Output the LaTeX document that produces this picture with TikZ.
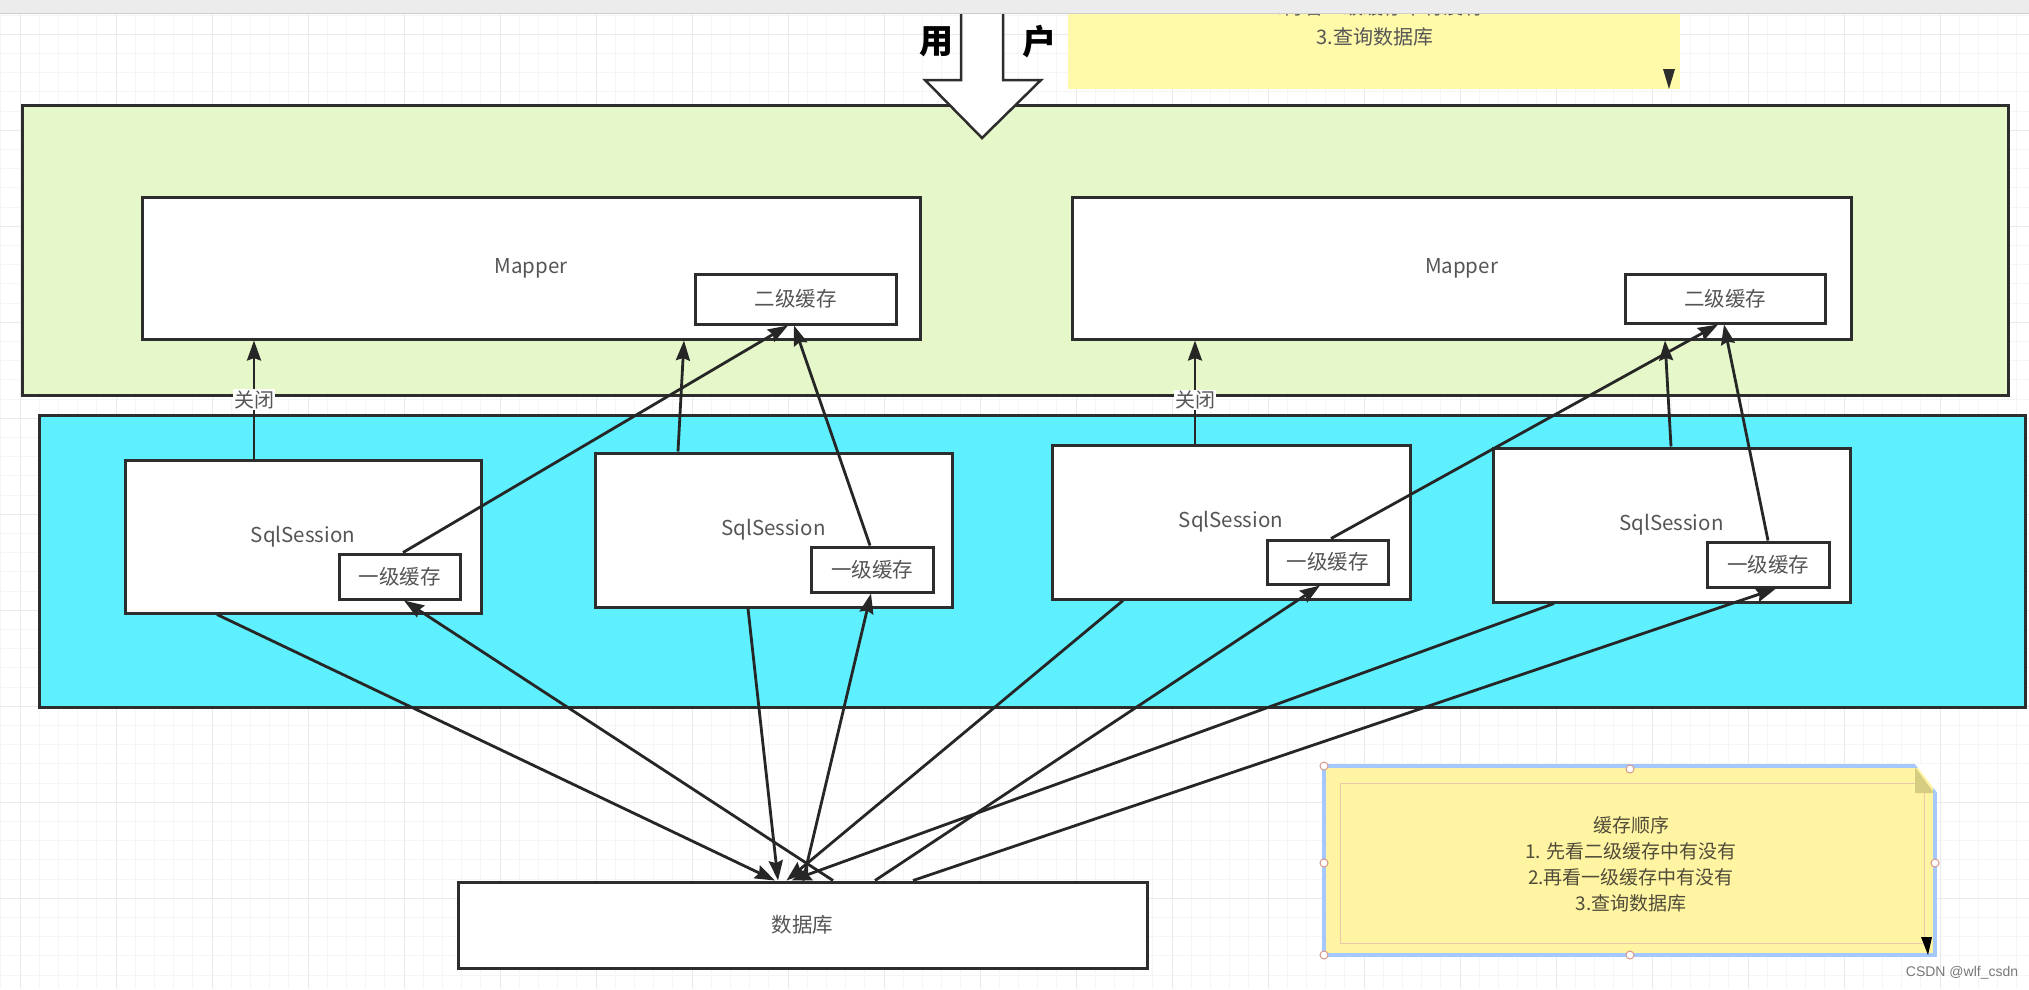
\documentclass[tikz,border=0pt]{standalone}
\usepackage{fontspec}
\setmainfont{Noto Sans CJK SC}
\newfontfamily\wmfont{Liberation Sans}
\usetikzlibrary{arrows.meta}
\definecolor{bordc}{RGB}{45,45,45}
\definecolor{linec}{RGB}{38,38,38}
\definecolor{txtc}{RGB}{85,85,85}
\definecolor{gfill}{RGB}{230,248,202}
\definecolor{cfill}{RGB}{94,240,254}
\definecolor{notea}{RGB}{255,249,170}
\definecolor{noteb}{RGB}{255,244,162}
\definecolor{notetxt}{RGB}{80,76,58}
\definecolor{glow}{RGB}{165,200,255}
\definecolor{innerc}{RGB}{236,200,170}
\definecolor{foldc}{RGB}{214,204,130}
\definecolor{gridmin}{RGB}{245,245,245}
\definecolor{gridmaj}{RGB}{234,234,234}
\definecolor{toolc}{RGB}{236,236,236}
\definecolor{handlec}{RGB}{215,150,140}
\begin{document}
\begin{tikzpicture}[x=1pt,y=-1pt,
  box/.style={draw=bordc,line width=3pt,fill=white,inner sep=0pt,text=txtc,font=\fontsize{20.5pt}{24pt}\selectfont},
  container/.style={draw=bordc,line width=3pt,inner sep=0pt},
  arr/.style={line width=2.8pt,draw=linec,-{Stealth[length=20pt,width=14pt,inset=2.5pt]}},
  lbl/.style={fill=white,inner sep=1pt,text=txtc,font=\fontsize{20pt}{24pt}\selectfont},
  handle/.style={circle,draw=handlec,fill=white,line width=1pt,inner sep=0pt,minimum size=8pt},
  usr/.style={font=\fontsize{34pt}{38pt}\selectfont\bfseries,text=black,inner sep=0pt}
]
\useasboundingbox (0,0) rectangle (2029,989);
\fill[white] (0,0) rectangle (2029,989);
% grid
\foreach \i in {0,...,106} \draw[gridmin,line width=1pt] ({0.8+19.2*\i},13) -- ({0.8+19.2*\i},989);
\foreach \j in {0,...,51} \draw[gridmin,line width=1pt] (0,{15+19.2*\j}) -- (2029,{15+19.2*\j});
\foreach \i in {0,...,21} \draw[gridmaj,line width=1pt] ({20+96*\i},13) -- ({20+96*\i},989);
\foreach \j in {0,...,10} \draw[gridmaj,line width=1pt] (0,{34+96*\j}) -- (2029,{34+96*\j});

% containers
\node[container,fill=gfill,minimum width=1986pt,minimum height=290pt] (green) at (1015,250) {};
\node[container,fill=cfill,minimum width=1986pt,minimum height=292pt] (cyan) at (1032,561) {};

% mappers
\node[box,minimum width=778pt,minimum height=142pt] (m1) at (531,268) {Mapper};
\node[box,minimum width=201pt,minimum height=50pt] (c2a) at (795.5,299) {二级缓存};
\node[box,minimum width=779pt,minimum height=142pt] (m2) at (1461.5,268) {Mapper};
\node[box,minimum width=200pt,minimum height=49pt] (c2b) at (1725,298.5) {二级缓存};

% sessions
\node[box,minimum width=356pt,minimum height=153pt] (s1) at (303,536.5) {SqlSession};
\node[box,minimum width=121pt,minimum height=45pt] (k1) at (399.5,576.5) {一级缓存};
\node[box,minimum width=357pt,minimum height=154pt] (s2) at (773.5,530) {SqlSession};
\node[box,minimum width=122pt,minimum height=45pt] (k2) at (872,569.5) {一级缓存};
\node[box,minimum width=358pt,minimum height=154pt] (s3) at (1231,522) {SqlSession};
\node[box,minimum width=121pt,minimum height=44pt] (k3) at (1327.5,562) {一级缓存};
\node[box,minimum width=357pt,minimum height=154pt] (s4) at (1671.5,525) {SqlSession};
\node[box,minimum width=122pt,minimum height=45pt] (k4) at (1768,564.5) {一级缓存};

% database
\node[box,minimum width=689pt,minimum height=86pt] (db) at (802.5,925) {数据库};

% upper connectors
\draw[arr] ([xshift=-49pt]s1.north) -- node[lbl,pos=0.5]{关闭} ([xshift=-277pt]m1.south);
\draw[arr] ([xshift=-95.5pt]s2.north) -- ([xshift=153pt]m1.south);
\draw[arr] ([xshift=3.5pt]k1.north) -- ([xshift=-7.5pt]c2a.south);
\draw[arr] ([xshift=-2pt]k2.north) -- ([xshift=-1.5pt]c2a.south);
\draw[arr] ([xshift=-36pt]s3.north) -- node[lbl,pos=0.42]{关闭} ([xshift=-266.5pt]m2.south);
\draw[arr] ([xshift=-0.5pt]s4.north) -- ([xshift=203.5pt]m2.south);
\draw[arr] ([xshift=3.5pt]k3.north) -- ([xshift=-7pt]c2b.south);
\draw[arr] ([xshift=0pt]k4.north) -- ([xshift=-1pt]c2b.south);

% lower connectors
\draw[arr] ([xshift=-86pt]s1.south) -- ([xshift=-27.5pt]db.north);
\draw[arr] ([xshift=30.5pt]db.north) -- ([xshift=4.5pt]k1.south);
\draw[arr] ([xshift=-25.5pt]s2.south) -- ([xshift=-24.5pt]db.north);
\draw[arr] ([xshift=0.5pt]db.north) -- ([xshift=-1pt]k2.south);
\draw[arr] ([xshift=-108pt]s3.south) -- ([xshift=-16pt]db.north);
\draw[arr] ([xshift=72.5pt]db.north) -- ([xshift=-7.5pt]k3.south);
\draw[arr] ([xshift=-117.5pt]s4.south) -- ([xshift=-11pt]db.north);
\draw[arr] ([xshift=110.5pt]db.north) -- ([xshift=8pt]k4.south);

% big user arrow
\draw[line width=2.5pt,draw=bordc,fill=white,line join=miter] (961,-5) -- (961,80) -- (925,80) -- (982,138) -- (1041,80) -- (1003,80) -- (1003,-5) -- cycle;
\node[usr] (u1) at (936,42) {用};
\node[usr] (u2) at (1039,42) {户};

% top note
\fill[notea] (1068,0) rectangle (1680,89);
\node[text=txtc,font=\fontsize{20pt}{24pt}\selectfont] (tn1) at (1375,7) {2.再看一级缓存中有没有};
\node[text=txtc,font=\fontsize{20pt}{24pt}\selectfont] (tn2) at (1375,37) {3.查询数据库};
\fill[bordc] (1663,69) -- (1675,69) -- (1669,89) -- cycle;

% toolbar strip
\fill[toolc] (0,0) rectangle (2029,13);
\draw[line width=1pt,draw={rgb,255:red,205;green,205;blue,205}] (0,13) -- (2029,13);

% bottom note
\draw[line width=4pt,draw=glow,fill=noteb] (1324,766) rectangle (1935,955);
\draw[line width=1pt,draw=innerc] (1340,783) rectangle (1924,943);
\fill[white] (1915,764) -- (1937.5,764) -- (1937.5,793) -- cycle;
\fill[foldc] (1915,767) -- (1915,793) -- (1934,793) -- cycle;
\node[align=center,text=notetxt,font=\fontsize{19pt}{26pt}\selectfont] (note) at (1631,864) {缓存顺序\\1. 先看二级缓存中有没有\\2.再看一级缓存中有没有\\3.查询数据库};
\fill[black] (1921,937) -- (1932,937) -- (1928,955) -- cycle;
\foreach \p in {(1324,766),(1630,769),(1324,863),(1935,863),(1324,955),(1630,955)} \node[handle] at \p {};

% watermark
\node[text={rgb,255:red,120;green,120;blue,120},font=\wmfont\fontsize{14pt}{16pt}\selectfont] (wm) at (1962,973) {CSDN @wlf\_csdn};
\end{tikzpicture}
\end{document}
